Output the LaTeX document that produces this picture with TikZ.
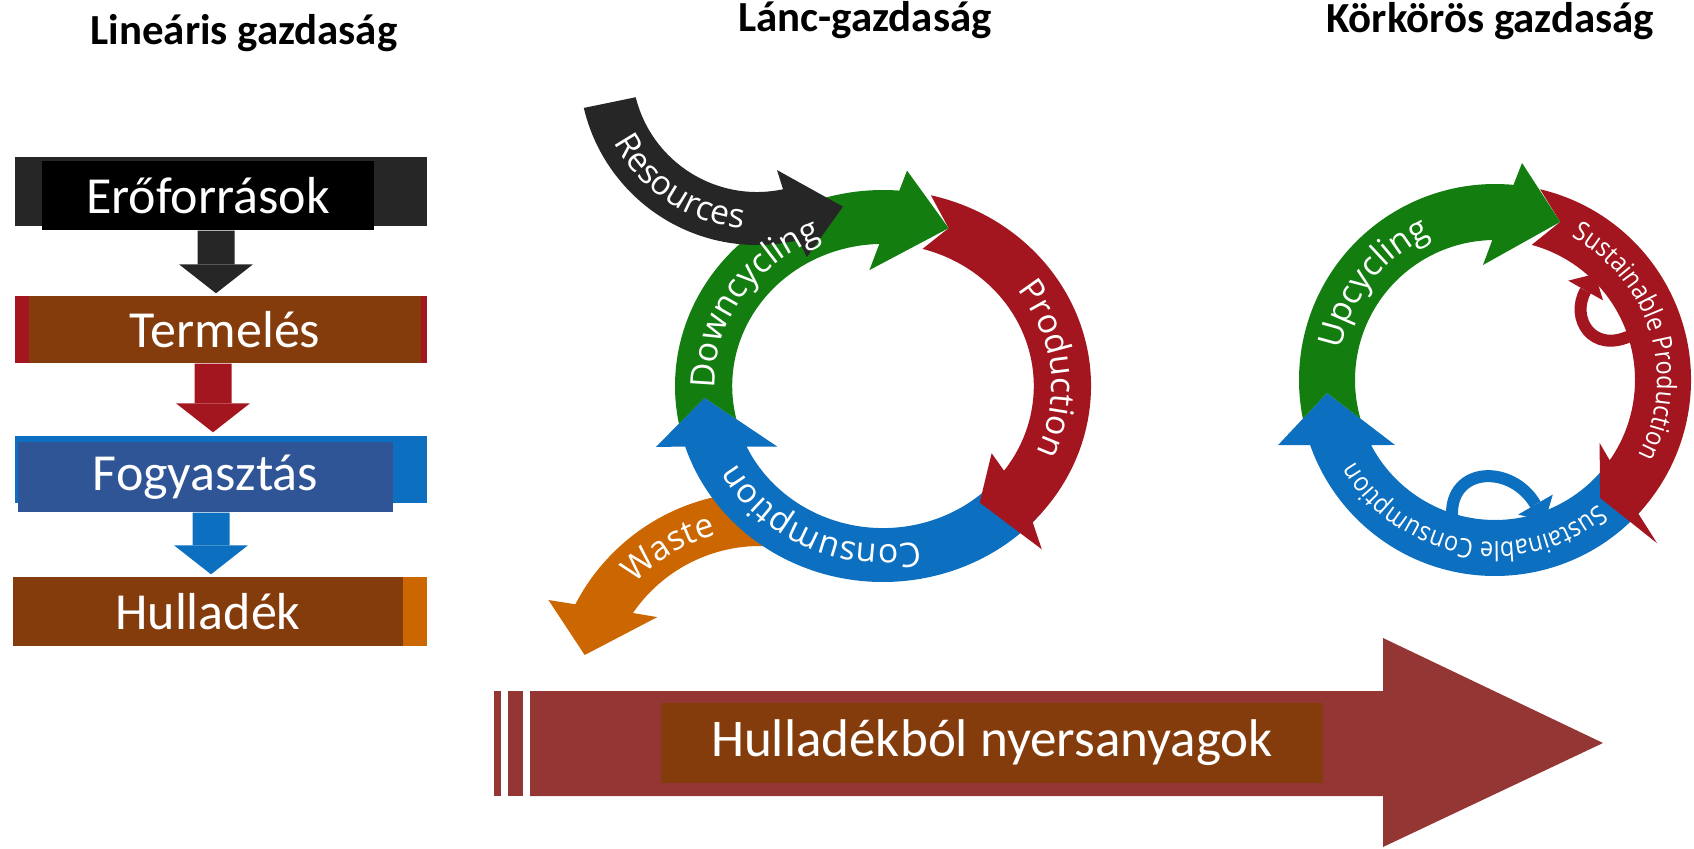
\documentclass[tikz,border=0pt]{standalone}
\usepackage{fontspec}
\setmainfont{Carlito}
\newfontfamily\cycfont{Open Sans}
\newfontfamily\cyccond[FakeStretch=0.88]{Open Sans}
\usepackage{xcolor}
\usetikzlibrary{positioning,arrows.meta,decorations.text}

\definecolor{dkgray}{HTML}{262626}
\definecolor{rd}{HTML}{A3161F}
\definecolor{brn}{HTML}{843C0C}
\definecolor{blu}{HTML}{0C6FBF}
\definecolor{dblu}{HTML}{2F5597}
\definecolor{orng}{HTML}{CC6600}
\definecolor{grn}{HTML}{137D10}
\definecolor{wine}{HTML}{943634}

\newcommand{\cycbig}{\cycfont\fontsize{9.6}{11}\selectfont}
\newcommand{\cycsmall}{\cyccond\fontsize{7.6}{9}\selectfont}

\begin{document}
\begin{tikzpicture}[
  econ/.style={font=\fontsize{12.2}{14}\selectfont\bfseries, anchor=base, inner sep=0pt},
  boxtxt/.style={inner sep=0pt, minimum height=0.69cm, text=white, font=\fontsize{14.8}{16}\selectfont},
  blockarr/.style={line width=0.37cm, -{Triangle[length=0.29cm, width=0.74cm, line width=0pt]}},
  hookarr/.style={line width=0.12cm, -{Triangle[length=0.19cm, width=0.40cm, line width=0pt]}},
  lbl/.style={decorate, decoration={text along path, text align=center, text color=white}}
]
\useasboundingbox (0,0) rectangle (16.94,8.48);

% headings
\node[econ] (lin) at (2.44,8.03) {Lineáris gazdaság};
\node[econ] (lanc) at (8.65,8.16) {Lánc-gazdaság};
\node[econ] (kor) at (14.90,8.15) {Körkörös gazdaság};

% linear economy
\fill[dkgray] (0.15,6.22) rectangle (4.27,6.91);
\node[boxtxt, fill=black, minimum width=3.32cm] (e1) at (2.08,6.525) {Erőforrások};
\fill[rd] (0.15,4.85) rectangle (4.27,5.52);
\node[boxtxt, fill=brn, minimum width=3.92cm, minimum height=0.67cm] (e2) at (2.25,5.185) {Termelés};
\fill[blu] (0.15,3.45) rectangle (4.27,4.12);
\node[boxtxt, fill=dblu, minimum width=3.75cm, minimum height=0.70cm] (e3) at (2.055,3.71) {Fogyasztás};
\fill[orng] (0.15,2.02) rectangle (4.27,2.71);
\node[boxtxt, fill=brn, minimum width=3.90cm] (e4) at (2.08,2.365) {Hulladék};
\draw[blockarr, dkgray] ([xshift=0.08cm]e1.south) -- ([xshift=-0.09cm,yshift=0.02cm]e2.north);
\draw[blockarr, rd] ([xshift=-0.12cm]e2.south) -- ([xshift=0.075cm,yshift=0.09cm]e3.north);
\draw[blockarr, blu] ([xshift=0.055cm]e3.south) -- ([xshift=0.03cm,yshift=0.02cm]e4.north);

% chain economy
\coordinate (cm) at (8.83,4.62);
\coordinate (cw) at (7.60,1.48);
\coordinate (cs) at (7.57,7.81);
\begin{scope}[shift={(cw)}]
  \fill[orng] (88:2.08) arc[start angle=88, end angle=152.6, radius=2.08] -- (154.7:2.34) -- (165.6:1.81)
    -- (141.1:1.32) -- (145.6:1.54) arc[start angle=145.6, end angle=88, radius=1.54] -- cycle;
\end{scope}
\begin{scope}[shift={(cm)}, xscale=1.04, yscale=0.98]
  \fill[blu] (-40:2.0) arc[start angle=-40, end angle=-162, radius=2.0] -- (195.9:2.27) -- (184:1.72)
    -- (211.3:1.19) -- (205.3:1.45) arc[start angle=205.3, end angle=320, radius=1.45] -- cycle;
  \fill[rd] (76.7:2.0) arc[start angle=76.7, end angle=-44, radius=2.0] -- (-47.5:2.26) -- (-52:1.51)
    -- (-33.3:1.25) -- (-36.6:1.45) arc[start angle=-36.6, end angle=74.8, radius=1.45] -- (68.6:1.73) -- cycle;
  \fill[grn] (191.1:2.0) arc[start angle=191.1, end angle=85.5, radius=2.0] -- (84:2.21) -- (68.6:1.73)
    -- (96.3:1.19) -- (91.4:1.45) arc[start angle=91.4, end angle=193.5, radius=1.45] -- (184:1.72) -- cycle;
\end{scope}
\begin{scope}[shift={(cs)}]
  \fill[dkgray] (193.3:1.78) arc[start angle=193.3, end angle=283.5, radius=1.78] -- (284.7:1.965) -- (301.6:1.64)
    -- (281:1.05) -- (282:1.25) arc[start angle=282, end angle=194, radius=1.25] -- cycle;
  \path[lbl, decoration={text={|\cycbig|Resources}}] (191.5:1.62) arc[start angle=191.5, end angle=281.5, radius=1.62];
\end{scope}
\begin{scope}[shift={(cm)}, xscale=1.04, yscale=0.98]
  \path[lbl, decoration={text={|\cycbig|Downcycling}}] (219:1.62) arc[start angle=219, end angle=75, radius=1.62];
  \path[lbl, decoration={text={|\cycbig|Production}}] (78:1.62) arc[start angle=78, end angle=-66, radius=1.62];
  \path[lbl, decoration={text={|\cycbig|Consumption}}] (-43:1.62) arc[start angle=-43, end angle=-187, radius=1.62];
\end{scope}
\begin{scope}[shift={(cw)}]
  \path[lbl, decoration={text={|\cycbig|Waste}}] (151:1.705) arc[start angle=151, end angle=91, radius=1.705];
\end{scope}

% circular economy
\coordinate (cr) at (14.95,4.68);
\begin{scope}[shift={(cr)}]
  \fill[blu] (-40:1.96) arc[start angle=-40, end angle=-160.6, radius=1.96] -- (196.7:2.265) -- (184.4:1.685)
    -- (213:1.193) -- (207.7:1.40) arc[start angle=207.7, end angle=320, radius=1.40] -- cycle;
  \fill[rd] (76.7:1.96) arc[start angle=76.7, end angle=-43, radius=1.96] -- (-45.2:2.30) -- (-48.3:1.58)
    -- (-31:1.22) -- (-35:1.40) arc[start angle=-35, end angle=74.8, radius=1.40] -- (67.6:1.71) -- cycle;
  \fill[grn] (191.4:1.96) arc[start angle=191.4, end angle=84.6, radius=1.96] -- (82.9:2.187) -- (67.6:1.71)
    -- (96:1.156) -- (91.1:1.40) arc[start angle=91.1, end angle=196, radius=1.40] -- (184.4:1.685) -- cycle;
  \path[lbl, decoration={text={|\cycbig|Upcycling}}] (213.5:1.575) arc[start angle=213.5, end angle=69.5, radius=1.575];
  \path[lbl, decoration={text={|\cycsmall|Sustainable Production}}] (97:1.62) arc[start angle=97, end angle=-63, radius=1.62];
  \path[lbl, decoration={text={|\cycsmall|Sustainable Consumption}}] (-25:1.62) arc[start angle=-25, end angle=-175, radius=1.62];
\end{scope}
\draw[blu, hookarr] (14.52,3.32) .. controls (14.50,3.82) and (15.12,3.84) .. (15.45,3.27);
\draw[rd, hookarr] (16.32,5.13) .. controls (15.92,4.93) and (15.70,5.30) .. (15.95,5.74);

% waste to raw material
\fill[wine] (4.94,0.52) rectangle (5.01,1.57);
\fill[wine] (5.08,0.52) rectangle (5.23,1.57);
\fill[wine] (5.30,0.52) -- (13.83,0.52) -- (13.83,0.01) -- (16.03,1.05) -- (13.83,2.10) -- (13.83,1.57) -- (5.30,1.57) -- cycle;
\node[fill=brn, text=white, minimum width=6.62cm, minimum height=0.80cm, inner sep=0pt, font=\fontsize{15.1}{17}\selectfont] (raw) at (9.92,1.05) {Hulladékból nyersanyagok};
\end{tikzpicture}
\end{document}
